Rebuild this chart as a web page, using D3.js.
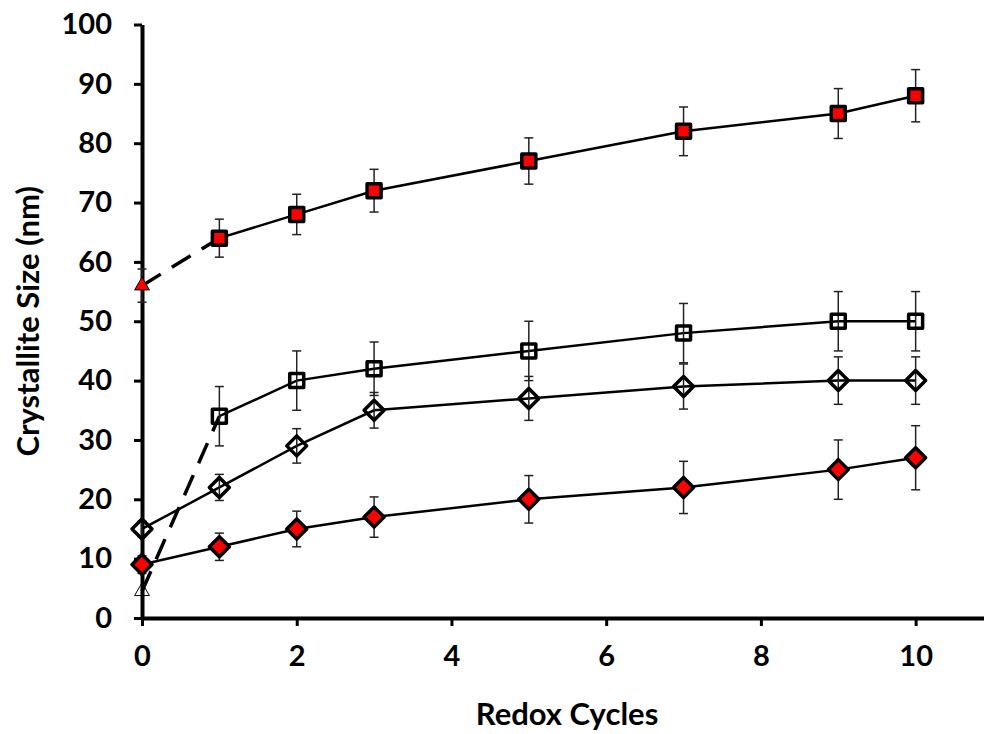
<!DOCTYPE html>
<html>
<head>
<meta charset="utf-8">
<script src="https://cdn.jsdelivr.net/npm/d3@7"></script>
<style>
body { margin: 0; background: #fff; }
text { font-family: Lato, "Open Sans", sans-serif; font-weight: bold; }
</style>
</head>
<body>
<script>
// Data
var cycles = [1, 2, 3, 5, 7, 9, 10];
var cyclesAll = [0, 1, 2, 3, 5, 7, 9, 10];

// red squares (with red triangle start at cycle 0)
var redSquare = [64, 68, 72, 77, 82, 85, 88];
var redSquareErr = [3.2, 3.4, 3.6, 3.9, 4.1, 4.2, 4.4];
var redTriangle = 56, redTriangleErr = 2.8;

// open squares (with open triangle start at cycle 0)
var openSquare = [34, 40, 42, 45, 48, 50, 50];
var openSquareErr = [5, 5, 4.5, 5, 5, 5, 5];
var openTriangle = 4.5;

// open diamonds
var openDiamond = [15, 22, 29, 35, 37, 39, 40, 40];
var openDiamondErr = [1.3, 2.2, 2.9, 3, 3.7, 3.8, 4, 4];

// red diamonds
var redDiamond = [9, 12, 15, 17, 20, 22, 25, 27];
var redDiamondErr = [1.5, 2.3, 3, 3.4, 4, 4.4, 5, 5.4];

var xTicks = [0, 2, 4, 6, 8, 10];
var yTicks = [0, 10, 20, 30, 40, 50, 60, 70, 80, 90, 100];

var svgWidth = 984;
var svgHeight = 734;

var svg = d3.select("body")
    .append("svg")
    .attr("width", svgWidth)
    .attr("height", svgHeight);

var x = d3.scaleLinear().domain([0, 11]).range([142, 993]);
var y = d3.scaleLinear().domain([0, 100]).range([618, 24.5]);

// axes
var xAxis = svg.append("g")
    .attr("transform", `translate(0, ${y(0)})`)
    .call(d3.axisBottom(x).tickValues(xTicks).tickSize(8).tickPadding(19).tickSizeOuter(0));
var yAxis = svg.append("g")
    .attr("transform", `translate(${x(0)}, 0)`)
    .call(d3.axisLeft(y).tickValues(yTicks).tickSize(8).tickPadding(22).tickSizeOuter(0));

[xAxis, yAxis].forEach(function(g) {
    g.select(".domain").attr("stroke", "#000").attr("stroke-width", 4);
    g.selectAll(".tick line").attr("stroke", "#000").attr("stroke-width", 3);
    g.selectAll(".tick text").attr("fill", "#000").style("font-size", "29px");
});

// connecting lines
var line = d3.line().x(d => x(d[0])).y(d => y(d[1]));

function drawLine(xs, ys, dashed) {
    svg.append("path")
        .datum(xs.map((v, i) => [v, ys[i]]))
        .attr("d", line)
        .attr("fill", "none")
        .attr("stroke", "#000")
        .attr("stroke-width", dashed ? 3.5 : 2.5)
        .attr("stroke-dasharray", dashed ? "22,13" : null);
}

drawLine([0, 1], [redTriangle, redSquare[0]], true);
drawLine([0, 1], [openTriangle, openSquare[0]], true);
drawLine(cycles, redSquare, false);
drawLine(cycles, openSquare, false);
drawLine(cyclesAll, openDiamond, false);
drawLine(cyclesAll, redDiamond, false);

// error bars
function drawErr(xs, ys, es) {
    var g = svg.append("g").attr("stroke", "#222").attr("stroke-width", 1.5);
    xs.forEach(function(xv, i) {
        var cx = x(xv), top = y(ys[i] + es[i]), bot = y(ys[i] - es[i]);
        g.append("line").attr("x1", cx).attr("x2", cx).attr("y1", top).attr("y2", bot);
        g.append("line").attr("x1", cx - 4.5).attr("x2", cx + 4.5).attr("y1", top).attr("y2", top);
        g.append("line").attr("x1", cx - 4.5).attr("x2", cx + 4.5).attr("y1", bot).attr("y2", bot);
    });
}

drawErr([0], [redTriangle], [redTriangleErr]);
drawErr(cycles, redSquare, redSquareErr);
drawErr(cycles, openSquare, openSquareErr);
drawErr(cyclesAll, openDiamond, openDiamondErr);
drawErr(cyclesAll, redDiamond, redDiamondErr);

// markers
var sq = d3.symbol().type(d3.symbolSquare).size(196);
var dia = "M0,-10L10,0L0,10L-10,0Z";
var tri = d3.symbol().type(d3.symbolTriangle).size(95);

function drawMarkers(xs, ys, path, fill, sw) {
    svg.append("g").selectAll("path")
        .data(xs.map((v, i) => [v, ys[i]]))
        .enter()
        .append("path")
        .attr("d", path)
        .attr("transform", d => `translate(${x(d[0])}, ${y(d[1])})`)
        .attr("fill", fill)
        .attr("stroke", "#000")
        .attr("stroke-width", sw)
        .attr("stroke-linejoin", "round");
}

drawMarkers(cycles, redSquare, sq(), "#ff0000", 3.5);
drawMarkers(cycles, openSquare, sq(), "none", 3.5);
drawMarkers(cyclesAll, openDiamond, dia, "none", 3.5);
drawMarkers(cyclesAll, redDiamond, dia, "#ff0000", 3.5);
drawMarkers([0], [redTriangle], tri(), "#ff0000", 1);
drawMarkers([0], [openTriangle], tri(), "none", 1);

// axis titles
svg.append("text")
    .attr("x", 567)
    .attr("y", 725)
    .attr("text-anchor", "middle")
    .style("font-size", "31px")
    .text("Redox Cycles");

svg.append("text")
    .attr("transform", `translate(39, ${(y(0) + y(100)) / 2}) rotate(-90)`)
    .attr("text-anchor", "middle")
    .style("font-size", "31px")
    .text("Crystallite Size (nm)");
</script>
</body>
</html>
